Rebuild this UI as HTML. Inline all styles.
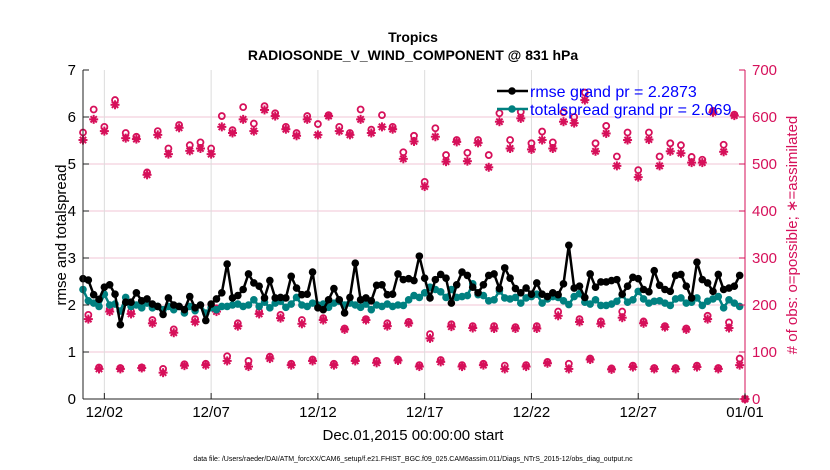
<!DOCTYPE html>
<html><head><meta charset="utf-8"><style>
html,body{margin:0;padding:0;background:#fff;}
svg{display:block;font-family:"Liberation Sans",Arial,sans-serif;}
</style></head><body>
<svg id="chart" width="830" height="470" viewBox="0 0 830 470" xmlns="http://www.w3.org/2000/svg">
<rect width="830" height="470" fill="#fff"/>
<text x="413" y="42" text-anchor="middle" font-size="14" font-weight="bold">Tropics</text>
<text x="413" y="60" text-anchor="middle" font-size="14" font-weight="bold">RADIOSONDE_V_WIND_COMPONENT @ 831 hPa</text>
<g id="grid"></g>
<g id="obs"></g>
<g id="lines"></g>
<g id="axes"></g>
<text transform="translate(66,235) rotate(-90)" text-anchor="middle" font-size="15">rmse and totalspread</text>
<text transform="translate(797,235) rotate(-90)" text-anchor="middle" font-size="15" fill="#d6105a"># of obs: o=possible; ∗=assimilated</text>
<text x="413" y="440" text-anchor="middle" font-size="15">Dec.01,2015 00:00:00 start</text>
<text x="413" y="461" text-anchor="middle" font-size="7">data file: /Users/raeder/DAI/ATM_forcXX/CAM6_setup/f.e21.FHIST_BGC.f09_025.CAM6assim.011/Diags_NTrS_2015-12/obs_diag_output.nc</text>
<g id="legend"></g>
</svg>
<script>
const rmse=[2.56,2.53,2.22,2.12,2.38,2.43,2.23,1.58,2.06,2.06,2.26,2.09,2.13,2.02,1.97,1.80,2.15,2.0,1.97,1.9,2.18,1.94,2.0,1.67,2.02,2.13,2.26,2.87,2.15,2.2,2.33,2.66,
2.47,2.4,2.15,2.52,2.15,2.16,2.15,2.61,2.36,2.22,2.23,2.70,1.94,1.9,2.11,2.35,2.11,1.83,2.16,2.89,2.11,2.15,2.09,2.42,2.43,2.22,2.23,2.66,2.54,2.56,2.52,
3.04,2.57,2.15,2.54,2.65,2.57,2.04,2.43,2.70,2.63,2.38,2.26,2.43,2.63,2.66,2.35,2.79,2.57,2.35,2.26,2.36,2.23,2.47,2.23,2.18,2.26,2.22,2.45,3.27,2.36,2.40,
2.16,2.66,2.38,2.49,2.49,2.52,2.54,2.23,2.4,2.59,2.56,2.33,2.28,2.73,2.42,2.33,2.29,2.63,2.65,2.4,2.15,2.91,2.54,2.47,2.29,2.65,2.33,2.36,2.4,2.63];
const spread=[2.33,2.09,2.04,1.97,2.23,2.0,2.02,1.87,2.16,1.97,2.0,1.94,2.04,1.94,1.97,1.9,1.97,1.9,1.97,1.83,1.97,1.88,2.0,1.83,1.94,1.9,1.97,1.97,2.0,2.02,1.97,2.0,
2.11,1.97,2.06,1.94,2.04,2.08,1.95,2.02,2.16,2.0,1.97,2.04,2.0,2.02,1.95,2.04,2.08,2.0,2.04,2.0,1.95,2.02,1.9,2.0,1.97,2.02,1.97,2.0,1.99,2.11,2.2,
2.16,2.26,2.38,2.33,2.28,2.16,2.33,2.16,2.18,2.2,2.45,2.22,2.2,2.09,2.11,2.3,2.15,2.13,2.16,2.04,2.15,2.18,2.23,2.04,2.13,2.18,2.16,2.09,2.01,2.18,2.24,
2.06,2.02,2.11,1.99,1.99,2.02,2.08,2.22,2.06,2.11,2.29,2.13,2.04,2.08,2.09,2.04,1.99,2.13,2.15,2.04,2.06,2.15,1.99,2.08,2.13,2.18,1.94,2.11,2.04,1.97];
const possA=[567,616,579,636,566,558,482,570,533,583,540,546,533,602,572,621,586,623,608,579,566,602,585,604,579,566,616,573,604,579,525,560,
462,576,519,551,524,551,519,608,551,611,544,569,546,610,600,652,544,581,516,567,487,567,516,544,540,515,509,613,541,605,0];
const assimA=[551,595,570,626,555,553,477,562,521,577,528,533,521,579,566,595,570,615,602,574,560,595,562,602,570,562,595,566,579,574,511,548,
452,558,505,547,506,545,493,590,533,597,531,551,533,590,587,636,527,565,496,551,472,552,496,527,523,503,503,610,526,603,0];
const possB=[179,191,186,168,148,170,193,161,186,179,168,172,150,170,161,164,138,159,155,155,153,155,186,170,165,186,165,155,150,177,163];
const assimB=[170,186,181,161,141,164,186,155,181,172,160,168,148,168,155,161,129,154,151,150,150,150,177,164,160,173,161,153,148,170,151];
const possC=[67,66,67,64,74,75,91,81,90,75,84,75,84,81,84,72,83,72,75,71,72,79,75,86,65,71,66,66,71,66,86];
const assimC=[64,64,66,56,71,72,81,69,86,72,81,72,81,77,82,69,79,69,72,64,69,76,64,84,63,68,64,64,68,64,72];
const xTickDays=[1,6,11,16,21,26,31];
const xTickLabels=["12/02","12/07","12/12","12/17","12/22","12/27","01/01"];
const yLeftTicks=[0,1,2,3,4,5,6,7];
const yRightTicks=[0,100,200,300,400,500,600,700];

const NS="http://www.w3.org/2000/svg";
const L=83,R=745,T=70,B=399;
const xS=d=>L+(R-L)*d/31;
const yL=v=>B-(B-T)*v/7;
const yR=v=>B-(B-T)*v/700;
const CR="#d6105a",TEAL="#008080";
function mk(tag,parent,attrs){const e=document.createElementNS(NS,tag);for(const k in attrs)e.setAttribute(k,attrs[k]);parent.appendChild(e);return e;}
const grid=document.getElementById('grid'),axes=document.getElementById('axes'),obs=document.getElementById('obs'),lines=document.getElementById('lines'),leg=document.getElementById('legend');

yRightTicks.forEach(v=>{if(v===0||v===700)return;const g=mk('line',grid,{x1:L,x2:R,y1:yR(v),y2:yR(v),stroke:'#f2c6d6','stroke-width':1});

});
xTickDays.forEach(d=>{if(d===31)return;const g=mk('line',grid,{x1:xS(d),x2:xS(d),y1:T,y2:B,stroke:'#dcdcdc','stroke-width':1});

});

function star(x,y){const g=mk('g',obs,{stroke:CR,'stroke-width':2});


const r=4.5;mk('line',g,{x1:x-r,x2:x+r,y1:y,y2:y});mk('line',g,{x1:x,x2:x,y1:y-r,y2:y+r});
const q=r*0.7;mk('line',g,{x1:x-q,x2:x+q,y1:y-q,y2:y+q});mk('line',g,{x1:x-q,x2:x+q,y1:y+q,y2:y-q});}
function circ(x,y){const c=mk('circle',obs,{cx:x,cy:y,r:3,fill:'none',stroke:CR,'stroke-width':1.8});

}
function group(poss,assim,start,step){poss.forEach((v,i)=>circ(xS(start+i*step),yR(v)));assim.forEach((v,i)=>star(xS(start+i*step),yR(v)));}
group(possA,assimA,0,0.5);group(possB,assimB,0.25,1);group(possC,assimC,0.75,1);

function series(vals,color,name){const pts=vals.map((v,i)=>xS(i*0.25).toFixed(1)+','+yL(v).toFixed(1)).join(' ');
const p=mk('polyline',lines,{points:pts,fill:'none',stroke:color,'stroke-width':2.5});


vals.forEach((v,i)=>{const c=mk('circle',lines,{cx:xS(i*0.25),cy:yL(v),r:3.8,fill:color});

});}
series(spread,TEAL,'totalspread');series(rmse,'#000','rmse');

mk('line',axes,{x1:L,x2:L,y1:T,y2:B,stroke:'#222','stroke-width':1});
mk('line',axes,{x1:L,x2:R,y1:B,y2:B,stroke:'#222','stroke-width':1});
mk('line',axes,{x1:R,x2:R,y1:T,y2:B,stroke:CR,'stroke-width':1});
yLeftTicks.forEach(v=>{mk('line',axes,{x1:L,x2:L+6,y1:yL(v),y2:yL(v),stroke:'#222'});
const t=mk('text',axes,{x:L-7,y:yL(v)+5,'text-anchor':'end','font-size':15});t.textContent=v;

});
yRightTicks.forEach(v=>{mk('line',axes,{x1:R-6,x2:R,y1:yR(v),y2:yR(v),stroke:CR});
const t=mk('text',axes,{x:R+7,y:yR(v)+5,'font-size':15,fill:CR});t.textContent=v;

});
xTickDays.forEach((d,i)=>{mk('line',axes,{x1:xS(d),x2:xS(d),y1:B,y2:B-6,stroke:'#222'});
const t=mk('text',axes,{x:xS(d),y:B+18,'text-anchor':'middle','font-size':15});t.textContent=xTickLabels[i];

});

[[91,'#000','rmse grand pr = 2.2873'],[109,TEAL,'totalspread grand pr = 2.069']].forEach(([y,c,s])=>{
mk('line',leg,{x1:497,x2:528,y1:y,y2:y,stroke:c,'stroke-width':2.5});mk('circle',leg,{cx:512,cy:y,r:3.8,fill:c});
const t=mk('text',leg,{x:530,y:y+6,'font-size':16,fill:'#0000ff'});t.textContent=s;

});
</script>
</body></html>
